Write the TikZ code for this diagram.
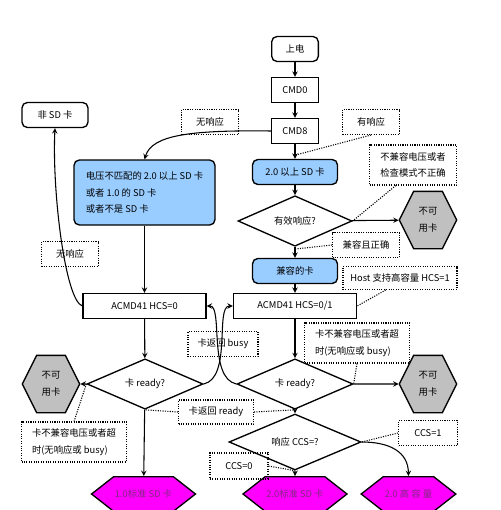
\documentclass[tikz,border=0pt]{standalone}
\usepackage{fontspec}
\setmainfont{Noto Sans CJK SC}
\usetikzlibrary{shapes.geometric,shapes.symbols}
\definecolor{cardblue}{RGB}{153,204,255}
\definecolor{cardgray}{RGB}{192,192,192}
\definecolor{cardpink}{RGB}{255,0,255}
\definecolor{cardtext}{RGB}{130,40,130}
\tikzset{
  every node/.style={font=\fontsize{7}{12.5}\selectfont},
  sbox/.style={draw,line width=1pt,fill=white,minimum width=35pt,minimum height=18.75pt,inner sep=1pt},
  rbox/.style={sbox,rounded corners=4pt},
  bluebox/.style={rbox,fill=cardblue,minimum width=63.75pt},
  wide/.style={minimum width=92.25pt},
  note/.style={draw,densely dotted,thick,minimum height=18.75pt,inner sep=2pt,align=left},
  dia/.style={diamond,draw,line width=1pt,fill=white,minimum width=87pt,minimum height=30.5pt,inner sep=0pt},
  bad/.style={signal,signal to=east and west,signal pointer angle=127,draw,line width=1pt,fill=cardgray,minimum width=43pt,minimum height=43pt,inner sep=0pt,align=center},
  card/.style={signal,signal to=east and west,signal pointer angle=76,draw,line width=1pt,fill=cardpink,text=cardtext,minimum width=78pt,minimum height=26pt,inner sep=0pt},
  link/.style={densely dotted,thick},
  flow/.style={->,line width=0.8pt},
  >=stealth
}
\begin{document}
\begin{tikzpicture}[x=0.75pt,y=-0.75pt]
\useasboundingbox (0,0) rectangle (500,510);
% main column
\node[rbox] (power) at (295,49) {上电};
\node[sbox] (cmd0) at (295,90) {CMD0};
\node[sbox] (cmd8) at (295,131) {CMD8};
\node[bluebox] (sdtwo) at (295,172) {2.0 以上 SD 卡};
\node[dia,minimum width=85.5pt,minimum height=30pt] (valid) at (295,221) {有效响应?};
\node[bluebox] (compat) at (295,271) {兼容的卡};
\node[sbox,wide] (acmdb) at (295,306) {ACMD41 HCS=0/1};
\node[dia] (readyb) at (295,384) {卡 ready?};
\node[dia,minimum width=99pt,minimum height=30pt] (ccs) at (295,442) {响应 CCS=?};
\node[card] (sdstd) at (295,494) {2.0标准 SD 卡};
\node[card,minimum width=71pt] (sdhc) at (408.5,494) {2.0 高 容 量};
% left column
\node[rbox,minimum width=49.5pt] (nonsd) at (55,115) {非 SD 卡};
\node[bluebox,minimum width=105.75pt,minimum height=48.75pt,align=left] (oldsd) at (144.5,192.5) {电压不匹配的 2.0 以上 SD 卡\\或者 1.0 的 SD 卡\\或者不是 SD 卡};
\node[sbox,wide] (acmda) at (144.5,306) {ACMD41 HCS=0};
\node[dia] (readya) at (145,384) {卡 ready?};
\node[card] (sdone) at (143.5,494) {1.0标准 SD 卡};
% unusable cards
\node[bad] (bada) at (428,220) {不可\\用卡};
\node[bad] (badb) at (51,384) {不可\\用卡};
\node[bad] (badc) at (428,384) {不可\\用卡};
% notes
\node[note,minimum width=42.75pt] (resp) at (371,122) {有响应};
\node[note,minimum width=42.75pt] (noresp) at (210,122) {无响应};
\node[note,minimum width=42.75pt] (norespb) at (70,254) {无响应};
\node[note,minimum width=65.25pt,minimum height=30pt] (badmode) at (413,165) {不兼容电压或者\\检查模式不正确};
\node[note,minimum width=50.25pt] (okay) at (366,245) {兼容且正确};
\node[note,minimum width=85.5pt,minimum height=17.25pt] (host) at (400,278) {Host 支持高容量 HCS=1};
\node[note,minimum width=52.5pt] (busy) at (223,344) {卡返回 busy};
\node[note,minimum width=78.75pt,minimum height=30pt] (timeouta) at (74,442) {卡不兼容电压或者超\\时(无响应或 busy)};
\node[note,minimum width=78.75pt,minimum height=30pt] (timeoutb) at (357,343) {卡不兼容电压或者超\\时(无响应或 busy)};
\node[note,minimum width=56.25pt,minimum height=18pt] (ready) at (216,412) {卡返回 ready};
\node[note,minimum width=44.25pt] (ccsone) at (428,433) {CCS=1};
\node[note,minimum width=43.5pt,minimum height=19.5pt] (ccszero) at (239,466) {CCS=0};
% arrows
\draw[flow] (power) -- (cmd0);
\draw[flow] (cmd0) -- (cmd8);
\draw[flow] (cmd8) -- coordinate[pos=0.75] (m1) (sdtwo);
\draw[flow] (sdtwo) -- (valid);
\draw[flow] (valid) -- coordinate[pos=0.2] (m2) (compat);
\draw[flow] (compat) -- (acmdb);
\draw[flow] (acmdb) -- (readyb);
\draw[flow] (readyb) -- (ccs);
\draw[flow] (ccs) -- (sdstd);
\draw[flow] (valid) -- (bada);
\draw[flow] (readyb) -- (badc);
\draw[flow] (cmd8.west) .. controls (190,130) and (152,135) .. (oldsd.north);
\draw[flow] (oldsd) -- (acmda);
\draw[flow] (acmda) -- (readya);
\draw[flow] (readya) -- (badb);
\draw[flow] (readya) -- (sdone);
\draw[flow] (acmda.west) .. controls (65,300) and (52,190) .. (nonsd.south);
\draw[flow] (readya.east) .. controls (232,378) and (215,306) .. (acmdb.west);
\draw[flow] (readyb.west) .. controls (208,378) and (223,306) .. (acmda.east);
\draw[flow] (ccs.east) .. controls (390,442) and (408,452) .. (sdhc.north);
% dotted links
\draw[link] (resp.south) -- (m1);
\draw[link] (badmode.230) -- (valid.east);
\draw[link] (okay.west) -- (m2);
\draw[link] (host.220) -- (acmdb.east);
\draw[link] (timeouta.north) -- (readya.west);
\draw[link] (timeoutb.south) -- (readyb.east);
\draw[link] (ready.west) -- (readya.south);
\draw[link] (ready.east) -- (readyb.south);
\draw[link] (ccsone.west) -- (ccs.east);
\draw[link] (ccszero.east) -- (ccs.south);
\end{tikzpicture}
\end{document}
